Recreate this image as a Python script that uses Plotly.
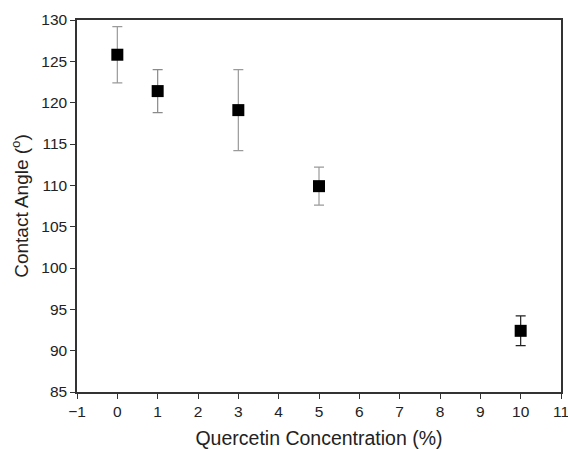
import plotly.graph_objects as go

concentration = [0, 1, 3, 5, 10]
contact_angle = [125.8, 121.4, 119.1, 109.9, 92.4]
error = [3.4, 2.6, 4.9, 2.3, 1.8]
err_colors = ["#9a9a9a", "#8a8a8a", "#9a9a9a", "#9a9a9a", "#222222"]

x_ticks = list(range(-1, 12))
y_ticks = list(range(85, 131, 5))

fig = go.Figure()
for i in range(len(concentration)):
    fig.add_trace(go.Scatter(
        x=[concentration[i]], y=[contact_angle[i]],
        mode="markers",
        marker=dict(symbol="square", size=12, color="black"),
        error_y=dict(type="data", array=[error[i]], visible=True,
                     color=err_colors[i], thickness=1.2, width=5),
        showlegend=False,
    ))

FONT = "Liberation Sans, Arial, sans-serif"
axis_common = dict(
    showline=True, linecolor="#333333", linewidth=1.5, mirror=True,
    ticks="outside", ticklen=5, tickwidth=1.2, tickcolor="#333333",
    showgrid=False, zeroline=False, automargin=False,
    ticklabeloverflow="allow",
    tickfont=dict(family=FONT, size=15.5, color="#222222"),
)

fig.update_layout(
    width=568, height=449,
    margin=dict(l=77, r=7, t=20, b=57),
    paper_bgcolor="white", plot_bgcolor="white",
    xaxis=dict(range=[-1, 11], tickvals=x_ticks, ticktext=["\u22121"] + [str(t) for t in x_ticks[1:]],
               title=dict(text="Quercetin Concentration (%)", standoff=14,
                          font=dict(family=FONT, size=19.5, color="#222222")),
               **axis_common),
    yaxis=dict(range=[85, 130], tickvals=y_ticks,
               title=dict(text="Contact Angle (<sup>o</sup>)", standoff=8,
                          font=dict(family=FONT, size=19, color="#222222")),
               **axis_common),
)

fig.write_html("out.html")
